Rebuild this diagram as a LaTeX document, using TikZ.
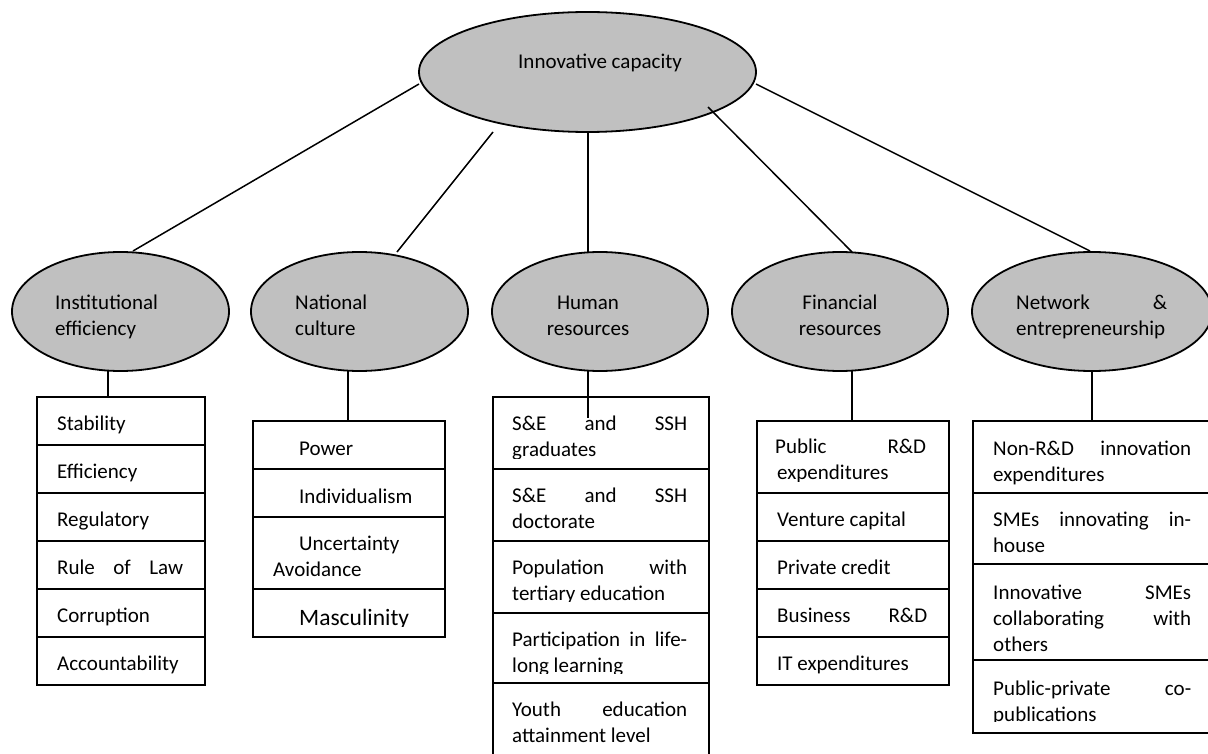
\documentclass[tikz,border=0pt]{standalone}
\usepackage{fontspec}
\setmainfont{Carlito}
\usetikzlibrary{shapes.geometric}
\definecolor{ellgray}{HTML}{C0C0C0}
\tikzset{
  ell/.style={ellipse, draw=black, fill=ellgray, line width=1.8pt, inner sep=0pt, minimum height=119pt},
  cell/.style={rectangle, draw=black, line width=1.8pt, inner sep=0pt, anchor=north west},
  txt/.style={inner sep=0pt, anchor=base west, font=\fontsize{21}{26}\selectfont},
  ctxt/.style={inner sep=0pt, anchor=base, font=\fontsize{21}{26}\selectfont},
  conn/.style={draw=black, line width=1.5pt},
}
\newcommand{\jl}[2]{\makebox[#1pt][s]{#2}}
\begin{document}
\begin{tikzpicture}[x=1pt,y=-1pt]
\useasboundingbox (0,0) rectangle (1208,754);
\clip (0,0) rectangle (1208,754);
\fill[white] (0,0) rectangle (1208,754);

% ---------- connectors from the top ellipse ----------
\coordinate (t1) at (419,84);  \coordinate (e1) at (133,251);
\coordinate (t2) at (493,132); \coordinate (e2) at (397,252);
\coordinate (t3) at (588,132); \coordinate (e3) at (588,252);
\coordinate (t4) at (708,107); \coordinate (e4) at (852,252);
\coordinate (t5) at (756,84);  \coordinate (e5) at (1090,251);

% ---------- top ellipse ----------
\node[ell, minimum width=337pt, minimum height=120pt] (top) at (587.5,72) {};
\node[txt] (toptxt) at (518,69) {Innovative capacity};

\draw[conn] (t1) -- (e1);
\draw[conn] (t2) -- (e2);
\draw[conn] (t3) -- (e3);
\draw[conn] (t4) -- (e4);
\draw[conn] (t5) -- (e5);

% ---------- second level ellipses ----------
\node[ell, minimum width=217pt] (inst) at (120.5,311.5) {};
\node[ell, minimum width=217pt] (nat)  at (359.5,311.5) {};
\node[ell, minimum width=216pt] (hum)  at (600,311.5) {};
\node[ell, minimum width=216pt] (fin)  at (840,311.5) {};
\node[ell, minimum width=240pt] (net)  at (1092,311.5) {};

\node[txt] (instA) at (55,309) {Institutional};
\node[txt] (instB) at (55,335) {efficiency};
\node[txt] (natA) at (295,309) {National};
\node[txt] (natB) at (295,335) {culture};
\node[ctxt] (humA) at (588,309) {Human};
\node[ctxt] (humB) at (588,335) {resources};
\node[ctxt] (finA) at (840,309) {Financial};
\node[ctxt] (finB) at (840,335) {resources};
\node[txt] (netA) at (1016,309) {\jl{151}{Network \&}};
\node[txt] (netB) at (1016,335) {entrepreneurship};

% ---------- vertical connectors to the boxes ----------
\coordinate (v1a) at (108,371);  \coordinate (v1b) at (108,396);
\coordinate (v2a) at (348,371);  \coordinate (v2b) at (348,420);
\coordinate (v3a) at (588,371);  \coordinate (v3b) at (588,418);
\coordinate (v4a) at (852,371);  \coordinate (v4b) at (852,420);
\coordinate (v5a) at (1092,371); \coordinate (v5b) at (1092,420);

% ---------- Institutional efficiency box ----------
\node[cell, minimum width=168pt, minimum height=48pt] (i1) at (36,396) {};
\node[cell, minimum width=168pt, minimum height=48pt] (i2) at (36,444) {};
\node[cell, minimum width=168pt, minimum height=48pt] (i3) at (36,492) {};
\node[cell, minimum width=168pt, minimum height=48pt] (i4) at (36,540) {};
\node[cell, minimum width=168pt, minimum height=48pt] (i5) at (36,588) {};
\node[cell, minimum width=168pt, minimum height=48pt] (i6) at (36,636) {};
\node[txt] (i1t) at (57,430) {Stability};
\node[txt] (i2t) at (57,478) {Efficiency};
\node[txt] (i3t) at (57,526) {Regulatory};
\node[txt] (i4t) at (57,574) {\jl{126}{Rule of Law}};
\node[txt] (i5t) at (57,622) {Corruption};
\node[txt] (i6t) at (57,670) {Accountability};

% ---------- National culture box ----------
\node[cell, minimum width=192pt, minimum height=48pt] (n1) at (252,420) {};
\node[cell, minimum width=192pt, minimum height=48pt] (n2) at (252,468) {};
\node[cell, minimum width=192pt, minimum height=72pt] (n3) at (252,516) {};
\node[cell, minimum width=192pt, minimum height=48pt] (n4) at (252,588) {};
\node[txt] (n1t) at (299,455) {Power};
\node[txt] (n2t) at (299,503) {Individualism};
\node[txt] (n3t) at (299,550) {Uncertainty};
\node[txt] (n3u) at (273,576) {Avoidance};
\begin{scope}
\clip (252,588) rectangle (444,626);
\node[txt, font=\fontsize{23.5}{28}\selectfont] (n4t) at (299,625) {Masculinity};
\end{scope}

% ---------- Human resources box ----------
\node[cell, minimum width=216pt, minimum height=72pt] (h1) at (492,396) {};
\node[cell, minimum width=216pt, minimum height=72pt] (h2) at (492,468) {};
\node[cell, minimum width=216pt, minimum height=72pt] (h3) at (492,540) {};
\node[cell, minimum width=216pt, minimum height=70pt] (h4) at (492,612) {};
\node[cell, minimum width=216pt, minimum height=90pt] (h5) at (492,682) {};
\begin{scope}
\clip (492,396) rectangle (708,458);
\node[txt] (h1t) at (512,430) {\jl{175}{S\&E and SSH}};
\node[txt] (h1u) at (512,456) {graduates};
\end{scope}
\node[txt] (h2t) at (512,502) {\jl{175}{S\&E and SSH}};
\node[txt] (h2u) at (512,528) {doctorate};
\begin{scope}
\clip (492,540) rectangle (708,601);
\node[txt] (h3t) at (512,574) {\jl{175}{Population with}};
\node[txt] (h3u) at (512,600) {tertiary education};
\end{scope}
\begin{scope}
\clip (492,612) rectangle (708,673);
\node[txt] (h4t) at (512,646) {\jl{175}{Participation in life-}};
\node[txt] (h4u) at (512,672) {long learning};
\end{scope}
\node[txt] (h5t) at (512,716) {\jl{175}{Youth education}};
\node[txt] (h5u) at (512,742) {attainment level};

% ---------- Financial resources box ----------
\node[cell, minimum width=192pt, minimum height=72pt] (f1) at (756,420) {};
\node[cell, minimum width=192pt, minimum height=48pt] (f2) at (756,492) {};
\node[cell, minimum width=192pt, minimum height=48pt] (f3) at (756,540) {};
\node[cell, minimum width=192pt, minimum height=48pt] (f4) at (756,588) {};
\node[cell, minimum width=192pt, minimum height=48pt] (f5) at (756,636) {};
\begin{scope}
\clip (756,420) rectangle (948,481);
\node[txt] (f1t) at (775,453) {\jl{151}{Public R\&D}};
\node[txt] (f1u) at (777,479) {expenditures};
\end{scope}
\node[txt] (f2t) at (777,526) {Venture capital};
\node[txt] (f3t) at (777,574) {Private credit};
\node[txt] (f4t) at (777,622) {\jl{150}{Business R\&D}};
\node[txt] (f5t) at (777,670) {IT expenditures};

% ---------- Network & entrepreneurship box ----------
\node[cell, minimum width=245pt, minimum height=72pt] (w1) at (972,420) {};
\node[cell, minimum width=245pt, minimum height=71pt] (w2) at (972,492) {};
\node[cell, minimum width=245pt, minimum height=96pt] (w3) at (972,563) {};
\node[cell, minimum width=245pt, minimum height=73pt] (w4) at (972,659) {};
\node[txt] (w1t) at (993,455) {\jl{198}{Non-R\&D innovation}};
\node[txt] (w1u) at (993,481) {expenditures};
\node[txt] (w2t) at (993,526) {\jl{198}{SMEs innovating in-}};
\node[txt] (w2u) at (993,552) {house};
\node[txt] (w3t) at (993,599) {\jl{198}{Innovative SMEs}};
\node[txt] (w3u) at (993,625) {\jl{198}{collaborating with}};
\node[txt] (w3v) at (993,651) {others};
\begin{scope}
\clip (972,659) rectangle (1215,721);
\node[txt] (w4t) at (993,695) {\jl{198}{Public-private co-}};
\node[txt] (w4u) at (993,721) {publications};
\end{scope}

% vertical connectors (drawn last so they show over the cell tops)
\draw[conn] (v1a) -- (v1b);
\draw[conn] (v2a) -- (v2b);
\draw[conn] (v3a) -- (v3b);
\draw[conn] (v4a) -- (v4b);
\draw[conn] (v5a) -- (v5b);
\end{tikzpicture}
\end{document}
